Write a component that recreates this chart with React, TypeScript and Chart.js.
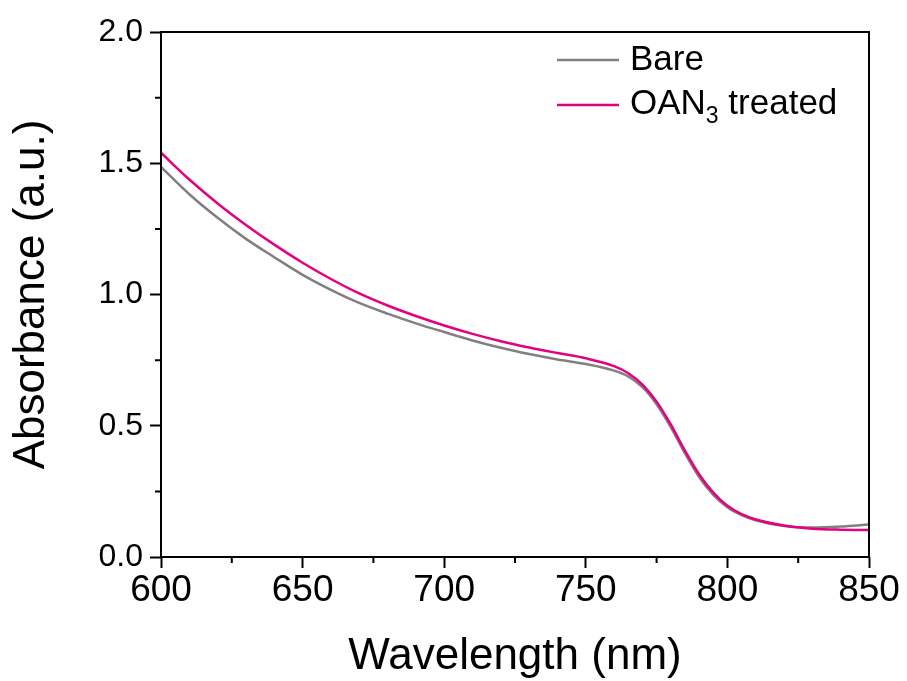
import React, { useEffect, useRef } from "react";
import { Chart, registerables } from "chart.js";

Chart.register(...registerables);

const wavelengths = [600, 610, 620, 630, 640, 650, 660, 670, 680, 690, 700, 710, 720, 730, 740, 750, 760, 765, 770, 775, 780, 785, 790, 795, 800, 805, 810, 820, 830, 840, 850];
const oanTreated = [1.54, 1.438, 1.347, 1.265, 1.19, 1.121, 1.059, 1.004, 0.958, 0.918, 0.882, 0.85, 0.822, 0.798, 0.777, 0.757, 0.727, 0.7, 0.657, 0.592, 0.505, 0.405, 0.315, 0.245, 0.195, 0.163, 0.143, 0.12, 0.108, 0.104, 0.103];
const bare = [1.486, 1.382, 1.292, 1.212, 1.142, 1.075, 1.018, 0.968, 0.927, 0.89, 0.857, 0.825, 0.797, 0.773, 0.752, 0.735, 0.71, 0.688, 0.647, 0.582, 0.495, 0.395, 0.305, 0.237, 0.19, 0.16, 0.14, 0.118, 0.112, 0.116, 0.124];
const xMinorTicks = [625, 675, 725, 775, 825];
const yMinorTicks = [0.25, 0.75, 1.25, 1.75];
const legendLabels = ["Bare", "OAN", "3", " treated"];

const GRAY = "#808080";
const PINK = "#e4007f";
const FONT = "'Liberation Sans', Arial, sans-serif";

const framePlugin = {
  id: "frame",
  afterDraw(chart: any) {
    const { ctx, chartArea, scales } = chart;
    const { left, right, top, bottom } = chartArea;
    ctx.save();
    ctx.strokeStyle = "#000";
    ctx.lineWidth = 2;
    ctx.strokeRect(left, top, right - left, bottom - top);
    // minor ticks
    ctx.beginPath();
    xMinorTicks.forEach((v) => {
      const x = scales.x.getPixelForValue(v);
      ctx.moveTo(x, bottom);
      ctx.lineTo(x, bottom + 6);
    });
    yMinorTicks.forEach((v) => {
      const y = scales.y.getPixelForValue(v);
      ctx.moveTo(left, y);
      ctx.lineTo(left - 6, y);
    });
    ctx.stroke();
    // legend
    ctx.lineWidth = 2.5;
    ctx.strokeStyle = GRAY;
    ctx.beginPath();
    ctx.moveTo(557, 60);
    ctx.lineTo(619, 60);
    ctx.stroke();
    ctx.strokeStyle = PINK;
    ctx.beginPath();
    ctx.moveTo(557, 105);
    ctx.lineTo(619, 105);
    ctx.stroke();
    ctx.fillStyle = "#000";
    ctx.textAlign = "left";
    ctx.textBaseline = "alphabetic";
    ctx.font = `35px ${FONT}`;
    ctx.fillText(legendLabels[0], 630, 70);
    ctx.fillText(legendLabels[1], 630, 114);
    let x = 630 + ctx.measureText(legendLabels[1]).width;
    ctx.font = `23px ${FONT}`;
    ctx.fillText(legendLabels[2], x, 123);
    x += ctx.measureText(legendLabels[2]).width;
    ctx.font = `35px ${FONT}`;
    ctx.fillText(legendLabels[3], x, 114);
    ctx.restore();
  },
};

export default function App() {
  const canvasRef = useRef<HTMLCanvasElement | null>(null);

  useEffect(() => {
    const canvas = canvasRef.current;
    if (!canvas) return;
    const chart = new Chart(canvas, {
      type: "line",
      data: {
        datasets: [
          {
            label: "OAN3 treated",
            data: wavelengths.map((w, i) => ({ x: w, y: oanTreated[i] })),
            borderColor: PINK,
            borderWidth: 2.5,
            pointRadius: 0,
            cubicInterpolationMode: "monotone",
            fill: false,
          },
          {
            label: "Bare",
            data: wavelengths.map((w, i) => ({ x: w, y: bare[i] })),
            borderColor: GRAY,
            borderWidth: 2.5,
            pointRadius: 0,
            cubicInterpolationMode: "monotone",
            fill: false,
          },
        ],
      },
      options: {
        responsive: false,
        animation: false,
        events: [],
        layout: { padding: { top: 32, right: 38, left: 0, bottom: 0 } },
        plugins: { legend: { display: false }, tooltip: { enabled: false } },
        scales: {
          x: {
            type: "linear",
            min: 600,
            max: 850,
            afterFit: (s: any) => {
              s.height = 124;
            },
            ticks: {
              stepSize: 50,
              color: "#000",
              font: { family: FONT, size: 37 },
              padding: 1,
              maxRotation: 0,
            },
            grid: {
              drawOnChartArea: false,
              drawTicks: true,
              tickLength: 11,
              tickWidth: 2,
              tickColor: "#000",
            },
            border: { display: false },
            title: {
              display: true,
              text: "Wavelength (nm)",
              color: "#000",
              font: { family: FONT, size: 44 },
              padding: { top: 0, bottom: -2 },
            },
          },
          y: {
            type: "linear",
            min: 0,
            max: 2,
            afterFit: (s: any) => {
              s.width = 161;
            },
            ticks: {
              stepSize: 0.5,
              color: "#000",
              font: { family: FONT, size: 32 },
              padding: 7,
              callback: (v: any) => Number(v).toFixed(1),
            },
            grid: {
              drawOnChartArea: false,
              drawTicks: true,
              tickLength: 11,
              tickWidth: 2,
              tickColor: "#000",
            },
            border: { display: false },
            title: {
              display: true,
              text: "Absorbance (a.u.)",
              color: "#000",
              font: { family: FONT, size: 44 },
              padding: { top: 5, bottom: 0 },
            },
          },
        },
      },
      plugins: [framePlugin],
    });
    return () => chart.destroy();
  }, []);

  return (
    <div style={{ position: "absolute", left: 0, top: 0, width: 907, height: 681, background: "#fff" }}>
      <canvas ref={canvasRef} width={907} height={681} />
    </div>
  );
}
